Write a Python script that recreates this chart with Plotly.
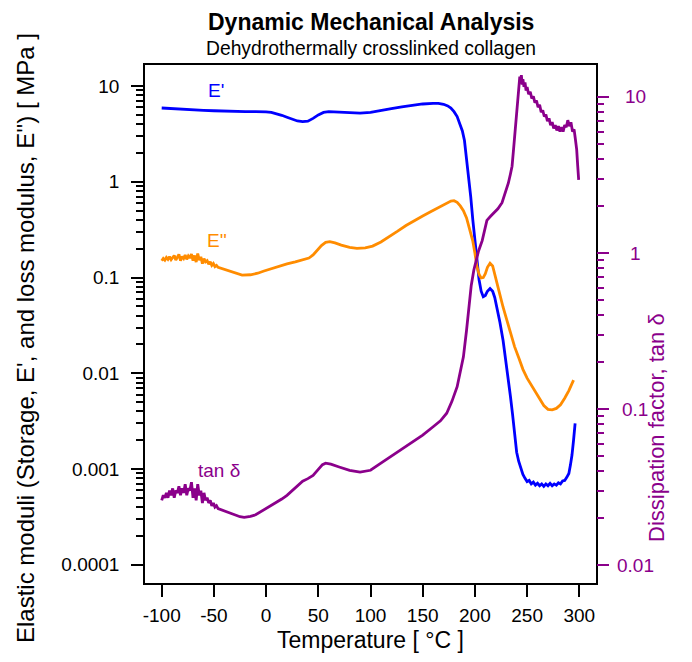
import math
import plotly.graph_objects as go

# ---------------------------------------------------------------------------
# DMA of dehydrothermally crosslinked collagen
# ---------------------------------------------------------------------------

# Storage modulus E' [MPa]
temp_storage = [-100, -90, -80, -70, -60, -50, -40, -30, -20, -10, -5, 0, 5, 10,
                15, 20, 25, 30, 35, 40, 45, 50, 55, 60, 65, 70, 80, 90, 100, 110,
                120, 130, 140, 150, 160, 165, 170, 174, 177, 180, 183, 186, 188,
                190, 192, 194, 196, 198, 200, 202, 204, 206, 208, 210, 212, 214.5,
                217, 219, 221, 224, 227, 230, 232, 234, 236, 238, 240, 242, 244,
                246, 248, 250, 252, 254, 256, 258, 260, 262, 264, 266, 268, 270,
                272, 274, 276, 278, 280, 282, 284, 286, 288, 290, 291.5, 293,
                294.5, 296]
storage_modulus = [5.9, 5.8, 5.72, 5.65, 5.58, 5.52, 5.46, 5.42, 5.4, 5.4, 5.4,
                   5.38, 5.3, 5.15, 4.95, 4.72, 4.5, 4.32, 4.25, 4.3, 4.6, 5.0,
                   5.3, 5.4, 5.38, 5.33, 5.25, 5.22, 5.3, 5.5, 5.8, 6.05, 6.3,
                   6.5, 6.6, 6.6, 6.45, 6.2, 5.9, 5.4, 4.8, 4.0, 3.4, 2.7, 1.8,
                   1.13, 0.7, 0.4, 0.24, 0.14, 0.095, 0.072, 0.063, 0.065, 0.072,
                   0.077, 0.072, 0.062, 0.05, 0.034, 0.022, 0.013, 0.009, 0.0058,
                   0.0038, 0.0022, 0.0015, 0.0012, 0.00100, 0.00088, 0.00080,
                   0.00074, 0.00076, 0.00070, 0.00073, 0.00068, 0.00071, 0.00067,
                   0.00070, 0.00066, 0.00070, 0.00067, 0.00071, 0.00067, 0.00070,
                   0.00068, 0.00072, 0.00070, 0.00075, 0.00076, 0.00082, 0.00090,
                   0.0011, 0.0014, 0.0020, 0.0030]

# Loss modulus E'' [MPa]
temp_loss = [-100, -98.5, -97, -95.5, -94, -92.5, -91, -89.5, -88, -86.5, -85,
             -83.5, -82, -80.5, -79, -77.5, -76, -74.5, -73, -71.5, -70, -68.5,
             -67, -65.5, -64, -62.5, -61, -59.5, -58, -56.5, -55, -53.5, -52,
             -50.5, -49, -47.5, -46, -40, -35, -30, -23, -15, -8, -2, 5, 12, 20,
             28, 36, 41, 45, 49, 53, 57, 61, 66, 72, 80, 87, 95, 102, 110, 118,
             126, 134, 142, 150, 158, 165, 170, 174, 177, 180, 183, 186, 189,
             192, 195, 198, 200, 202, 204, 206, 208, 210, 212, 214.5, 217, 219,
             221, 224, 227, 230, 234, 238, 242, 246, 250, 254, 258, 262, 266,
             270, 274, 278, 282, 286, 290, 294.5]
loss_modulus = [0.150, 0.158, 0.152, 0.162, 0.155, 0.165, 0.154, 0.160, 0.170,
                0.152, 0.163, 0.175, 0.150, 0.166, 0.158, 0.172, 0.155, 0.168,
                0.160, 0.176, 0.150, 0.170, 0.145, 0.178, 0.152, 0.165, 0.140,
                0.158, 0.146, 0.150, 0.138, 0.146, 0.134, 0.140, 0.130, 0.134,
                0.128, 0.122, 0.116, 0.111, 0.106, 0.107, 0.111, 0.117, 0.124,
                0.131, 0.139, 0.146, 0.153, 0.160, 0.172, 0.192, 0.216, 0.233,
                0.237, 0.230, 0.218, 0.207, 0.202, 0.204, 0.213, 0.235, 0.265,
                0.305, 0.350, 0.395, 0.440, 0.490, 0.540, 0.580, 0.615, 0.630,
                0.635, 0.610, 0.560, 0.500, 0.420, 0.320, 0.240, 0.180, 0.130,
                0.108, 0.099, 0.100, 0.110, 0.128, 0.141, 0.132, 0.110, 0.090,
                0.066, 0.049, 0.038, 0.028, 0.019, 0.0145, 0.011, 0.0089,
                0.0075, 0.0063, 0.0053, 0.0046, 0.0042, 0.00415, 0.0043, 0.0047,
                0.0055, 0.0066, 0.0085]

# Dissipation factor tan(delta)
temp_tan = [-100, -98.5, -97, -95.5, -94, -92.5, -91, -89.5, -88, -86.5, -85,
            -83.5, -82, -80.5, -79, -77.5, -76, -74.5, -73, -71.5, -70, -68.5,
            -67, -65.5, -64, -62.5, -61, -59.5, -58, -56.5, -55, -53.5, -52,
            -50.5, -49, -47.5, -46, -40, -35, -30, -25, -21, -15, -10, -5, 0, 5,
            10, 15, 20, 25, 30, 35, 40, 45, 50, 54, 57, 62, 70, 80, 90, 100,
            110, 122, 135, 143, 150, 160, 167, 173, 178, 183, 186, 189, 192,
            194, 196.5, 199, 201, 203.5, 207, 209.5, 211.5, 215, 218, 222, 226,
            229, 232, 234, 235.6, 237, 238.8, 240.5, 242, 243, 243.8, 244.5,
            245.3, 246, 247, 248, 249, 250, 251.5, 253, 254.5, 256, 257.5, 259,
            260.5, 262, 263.5, 265, 266.5, 268, 269.5, 271, 272.5, 274, 275.5,
            277, 278.5, 280, 281.5, 283, 284.5, 286, 287.5, 289, 290.5, 292,
            293.5, 295, 296.2, 297.5, 298.5, 299.4]
tan_delta = [0.026, 0.028, 0.027, 0.029, 0.027, 0.030, 0.028, 0.031, 0.027,
             0.030, 0.029, 0.032, 0.028, 0.031, 0.029, 0.033, 0.028, 0.031,
             0.030, 0.034, 0.027, 0.031, 0.026, 0.033, 0.028, 0.030, 0.025,
             0.029, 0.026, 0.027, 0.025, 0.026, 0.024, 0.025, 0.0235, 0.024,
             0.023, 0.0222, 0.0215, 0.0208, 0.0204, 0.0202, 0.0205, 0.021,
             0.022, 0.023, 0.024, 0.025, 0.0265, 0.028, 0.030, 0.0325, 0.0345,
             0.0358, 0.0375, 0.041, 0.044, 0.045, 0.0443, 0.0425, 0.0405, 0.0394,
             0.0405, 0.045, 0.051, 0.0587, 0.063, 0.068, 0.077, 0.084, 0.094,
             0.112, 0.139, 0.17, 0.216, 0.32, 0.453, 0.62, 0.778, 0.9, 1.03,
             1.2, 1.45, 1.62, 1.72, 1.8, 1.92, 2.1, 2.4, 2.8, 3.2, 3.6, 4.6,
             6.4, 9.0, 11.5, 13.5, 12.2, 13.8, 12.0, 13.0, 11.6, 12.4, 11.0,
             11.6, 10.4, 10.8, 9.8, 10.1, 9.2, 9.5, 8.6, 8.9, 8.0, 8.2, 7.5,
             7.7, 7.0, 7.3, 6.6, 6.9, 6.3, 6.6, 6.1, 6.5, 6.0, 6.4, 6.0, 6.6,
             6.4, 7.1, 6.5, 6.9, 6.0, 6.2, 5.4, 4.6, 3.6, 2.94]

# Axis ticks
x_ticks = [-100, -50, 0, 50, 100, 150, 200, 250, 300]
x_labels = ["-100", "-50", "0", "50", "100", "150", "200", "250", "300"]
left_major = [0.0001, 0.001, 0.01, 0.1, 1, 10]
left_labels = ["0.0001", "0.001", "0.01", "0.1", "1", "10"]
right_major = [0.01, 0.1, 1, 10]
right_labels = ["0.01", "0.1", "1", "10"]

BLUE = "#0000FF"
ORANGE = "#FF8C00"
PURPLE = "#8B008B"
FONT = "Liberation Sans, Arial, Helvetica, sans-serif"


def minor_between(majors):
    vals = []
    for m in majors[:-1]:
        vals += [m * k for k in range(2, 10)]
    return vals


fig = go.Figure()
fig.add_trace(go.Scatter(x=temp_storage, y=storage_modulus, mode="lines",
                         line=dict(color=BLUE, width=2.8), yaxis="y",
                         name="E'"))
fig.add_trace(go.Scatter(x=temp_loss, y=loss_modulus, mode="lines",
                         line=dict(color=ORANGE, width=2.8), yaxis="y",
                         name="E''"))
fig.add_trace(go.Scatter(x=temp_tan, y=tan_delta, mode="lines",
                         line=dict(color=PURPLE, width=2.8), yaxis="y2",
                         name="tan δ"))

annotations = []
# Titles
annotations.append(dict(text="<b>Dynamic Mechanical Analysis</b>", xref="paper",
                        yref="paper", x=0.5, y=1, yshift=43, xanchor="center",
                        yanchor="middle", showarrow=False,
                        font=dict(size=23, color="black", family=FONT)))
annotations.append(dict(text="Dehydrothermally crosslinked collagen", xref="paper",
                        yref="paper", x=0.5, y=1, yshift=17, xanchor="center",
                        yanchor="middle", showarrow=False,
                        font=dict(size=19.3, color="black", family=FONT)))
# Axis titles
annotations.append(dict(text="Temperature [ °C ]", xref="paper", yref="paper",
                        x=0.5, y=0, yshift=-57, xanchor="center",
                        yanchor="middle", showarrow=False,
                        font=dict(size=23, color="black", family=FONT)))
annotations.append(dict(text="Elastic moduli (Storage, E', and loss modulus, E'') [ MPa ]",
                        xref="paper", yref="paper", x=0, y=0.5, xshift=-120,
                        yshift=-14, textangle=-90, xanchor="center",
                        yanchor="middle", showarrow=False,
                        font=dict(size=24, color="black", family=FONT)))
annotations.append(dict(text="Dissipation factor, tan δ", xref="paper",
                        yref="paper", x=1, y=0.5, xshift=60, yshift=-104,
                        textangle=-90, xanchor="center", yanchor="middle",
                        showarrow=False,
                        font=dict(size=22, color=PURPLE, family=FONT)))
# Right-hand tick labels, centred like the rest of the axis text
for v, lab in zip(right_major, right_labels):
    annotations.append(dict(text=lab, xref="paper", yref="y2", x=1,
                            y=math.log10(v), xshift=39, xanchor="center",
                            yanchor="middle", showarrow=False,
                            font=dict(size=19, color=PURPLE, family=FONT)))
# Curve labels
annotations.append(dict(text="E'", xref="x", yref="y", x=-48, y=0.958,
                        showarrow=False, font=dict(size=19, color=BLUE, family=FONT)))
annotations.append(dict(text="E''", xref="x", yref="y", x=-47, y=-0.618,
                        showarrow=False, font=dict(size=19, color=ORANGE, family=FONT)))
annotations.append(dict(text="tan δ", xref="x", yref="y2", x=-45, y=-1.391,
                        showarrow=False, font=dict(size=19, color=PURPLE, family=FONT)))

fig.update_layout(
    width=692, height=662,
    margin=dict(l=145, r=96, t=65, b=79),
    paper_bgcolor="white", plot_bgcolor="white",
    showlegend=False,
    font=dict(family=FONT, size=19, color="black"),
    xaxis=dict(range=[-116, 316], tickmode="array", tickvals=x_ticks,
               ticktext=x_labels,
               ticks="outside", ticklen=12, tickwidth=1.5, tickcolor="black",
               showline=True, linewidth=1.5, linecolor="black", mirror=True,
               showgrid=False, zeroline=False, ticklabelstandoff=2,
               tickfont=dict(size=19, color="black", family=FONT)),
    yaxis=dict(type="log", range=[-4.19, 1.22], tickmode="array",
               tickvals=left_major, ticktext=left_labels,
               ticks="outside", ticklen=12, tickwidth=1.5, tickcolor="black",
               minor=dict(tickmode="array", tickvals=minor_between(left_major),
                          ticks="outside", ticklen=7, tickwidth=1.5,
                          tickcolor="black", showgrid=False),
               showline=True, linewidth=1.5, linecolor="black", mirror=True,
               showgrid=False, zeroline=False, ticklabelstandoff=8,
               tickfont=dict(size=19, color="black", family=FONT)),
    yaxis2=dict(type="log", range=[-2.115, 1.205], overlaying="y", side="right",
                tickmode="array", tickvals=right_major, showticklabels=False,
                ticks="outside", ticklen=12, tickwidth=1.5, tickcolor=PURPLE,
                minor=dict(tickmode="array", tickvals=minor_between(right_major),
                           ticks="outside", ticklen=7, tickwidth=1.5,
                           tickcolor=PURPLE, showgrid=False),
                showline=False, showgrid=False, zeroline=False),
    annotations=annotations,
)

fig.write_html("out.html")
